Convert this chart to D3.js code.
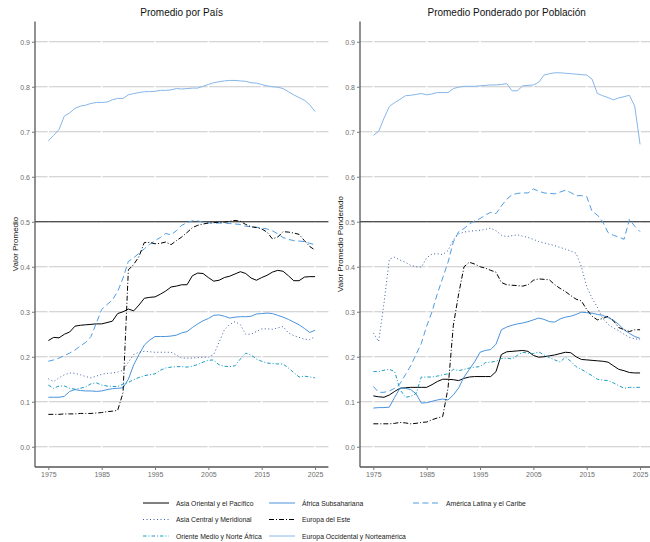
<!DOCTYPE html>
<html><head><meta charset="utf-8">
<script src="https://cdn.jsdelivr.net/npm/d3@7"></script>
<style>body{margin:0;background:#fff;} svg{display:block;font-family:"Liberation Sans",Arial,sans-serif;}</style>
</head><body><svg id="c" width="650" height="542"></svg>
<script>
const years = d3.range(1975, 2026);
const yTicks = [0, 0.1, 0.2, 0.3, 0.4, 0.5, 0.6, 0.7, 0.8, 0.9];
const xTicks = [1975, 1985, 1995, 2005, 2015, 2025];
const panelTitles = ["Promedio por País", "Promedio Ponderado por Población"];
const yTitles = ["Valor Promedio", "Valor Promedio Ponderado"];
const regions = ["Asia Oriental y el Pacífico","África Subsahariana","América Latina y el Caribe","Asia Central y Meridional","Europa del Este","Oriente Medio y Norte África","Europa Occidental y Norteamérica"];

// Promedio por País
const eastAsiaL = [.236,.243,.242,.25,.255,.268,.270,.271,.272,.273,.273,.276,.279,.296,.300,.306,.302,.315,.330,.332,.333,.339,.346,.355,.357,.360,.360,.380,.386,.385,.376,.368,.370,.376,.379,.384,.389,.385,.375,.370,.376,.381,.388,.392,.390,.380,.369,.369,.377,.378,.378];
const ssaL = [.11,.11,.11,.112,.123,.127,.125,.124,.124,.123,.124,.127,.129,.130,.131,.15,.182,.205,.226,.237,.245,.245,.245,.246,.248,.253,.256,.265,.273,.28,.285,.292,.293,.29,.286,.288,.289,.289,.29,.295,.296,.297,.296,.292,.288,.283,.277,.271,.263,.254,.259];
const latamL = [.19,.193,.197,.203,.208,.215,.224,.232,.245,.275,.305,.316,.326,.345,.375,.412,.42,.43,.44,.45,.458,.465,.474,.471,.48,.492,.498,.502,.502,.499,.498,.497,.497,.497,.496,.495,.494,.49,.489,.488,.486,.484,.48,.473,.465,.461,.458,.457,.456,.452,.449];
const centralAsiaL = [.151,.145,.153,.16,.164,.163,.16,.156,.153,.157,.161,.163,.164,.166,.17,.188,.205,.21,.212,.211,.21,.21,.21,.21,.204,.197,.197,.197,.198,.199,.199,.205,.232,.26,.272,.278,.271,.25,.25,.256,.262,.262,.261,.264,.267,.253,.247,.243,.239,.238,.245];
const eastEurL = [.072,.072,.072,.073,.073,.073,.074,.074,.074,.075,.076,.078,.079,.081,.12,.393,.405,.423,.454,.454,.451,.452,.455,.449,.458,.466,.476,.487,.492,.495,.497,.498,.499,.499,.501,.503,.501,.494,.489,.487,.484,.477,.462,.466,.478,.477,.475,.472,.458,.445,.437];
const menaL = [.137,.13,.135,.135,.13,.128,.13,.133,.14,.142,.137,.135,.134,.134,.139,.143,.149,.154,.158,.16,.162,.17,.175,.177,.178,.178,.177,.179,.183,.188,.192,.193,.182,.179,.178,.18,.195,.208,.204,.195,.19,.186,.185,.184,.184,.175,.165,.155,.157,.155,.153];
const westL = [.68,.692,.705,.735,.742,.752,.757,.759,.763,.765,.765,.766,.771,.774,.774,.782,.785,.787,.789,.789,.79,.792,.792,.793,.796,.795,.796,.797,.797,.801,.805,.809,.811,.813,.814,.814,.813,.812,.809,.808,.805,.802,.80,.799,.796,.789,.782,.776,.770,.76,.745];

// Promedio Ponderado por Población
const eastAsiaR = [.113,.111,.11,.115,.123,.13,.131,.132,.132,.132,.132,.138,.145,.15,.15,.149,.147,.152,.155,.156,.156,.156,.156,.167,.205,.211,.212,.213,.214,.212,.203,.199,.2,.202,.204,.207,.21,.209,.2,.194,.193,.192,.191,.19,.188,.18,.172,.169,.165,.164,.164];
const ssaR = [.086,.087,.087,.088,.11,.13,.13,.127,.118,.097,.098,.101,.104,.106,.104,.115,.131,.155,.172,.189,.21,.214,.216,.228,.26,.266,.27,.273,.275,.278,.282,.286,.283,.278,.277,.284,.288,.29,.294,.299,.298,.297,.294,.292,.287,.281,.272,.26,.252,.245,.241];
const latamR = [.134,.121,.121,.124,.13,.14,.16,.18,.205,.23,.268,.3,.34,.375,.41,.455,.478,.485,.495,.502,.507,.515,.521,.518,.535,.55,.56,.563,.564,.564,.573,.568,.564,.563,.562,.566,.57,.565,.558,.558,.556,.523,.515,.5,.476,.47,.466,.461,.505,.49,.478];
const centralAsiaR = [.253,.234,.319,.417,.421,.415,.41,.403,.4,.399,.42,.428,.429,.427,.436,.46,.473,.477,.479,.48,.481,.483,.486,.48,.47,.467,.469,.471,.468,.465,.461,.456,.453,.45,.447,.443,.439,.435,.43,.4,.356,.33,.31,.285,.272,.264,.258,.25,.243,.24,.238];
const eastEurR = [.051,.051,.051,.051,.052,.054,.053,.051,.052,.054,.055,.06,.064,.067,.13,.27,.34,.40,.41,.406,.4,.397,.392,.388,.365,.36,.359,.358,.357,.36,.37,.373,.372,.371,.36,.352,.345,.336,.328,.324,.305,.29,.282,.285,.29,.28,.265,.26,.256,.26,.26];
const menaR = [.167,.167,.17,.172,.167,.127,.11,.112,.118,.155,.155,.155,.157,.16,.162,.172,.169,.172,.175,.177,.178,.187,.188,.19,.196,.197,.195,.203,.21,.208,.207,.211,.204,.198,.193,.188,.199,.19,.178,.172,.165,.158,.15,.148,.147,.142,.136,.13,.132,.132,.132];
const westR = [.692,.701,.73,.756,.765,.772,.78,.781,.783,.785,.782,.784,.787,.787,.787,.796,.799,.801,.801,.801,.802,.803,.804,.804,.805,.807,.791,.791,.802,.803,.804,.81,.826,.829,.831,.831,.83,.829,.828,.827,.826,.817,.785,.78,.776,.771,.775,.778,.781,.757,.672];

const styles = [
  {color:"#000000", dash:null},
  {color:"#4a93dc", dash:null},
  {color:"#4e9de3", dash:"6,3.5"},
  {color:"#3d5fa8", dash:"1,2.5"},
  {color:"#000000", dash:"5,2,1,2"},
  {color:"#1a9cc4", dash:"3.5,2,1,2"},
  {color:"#86b6ea", dash:null}
];

const panels = [
  {series:[eastAsiaL, ssaL, latamL, centralAsiaL, eastEurL, menaL, westL], x0:35, x1:328.4},
  {series:[eastAsiaR, ssaR, latamR, centralAsiaR, eastEurR, menaR, westR], x0:360, x1:653.4}
];

const svg = d3.select("#c");
const y = d3.scaleLinear().domain([-0.045, 0.945]).range([467, 21.5]);

panels.forEach((p, pi) => {
  const x = d3.scaleLinear().domain([1972.5, 2027.5]).range([p.x0, p.x1]);
  const g = svg.append("g");
  // grid
  g.selectAll(".gy").data(yTicks).join("line")
    .attr("x1", p.x0).attr("x2", p.x1).attr("y1", d => y(d)).attr("y2", d => y(d))
    .attr("stroke", "#c9c9c9").attr("stroke-width", 1);
  g.selectAll(".gx").data(xTicks).join("line")
    .attr("x1", d => x(d)).attr("x2", d => x(d)).attr("y1", 21.5).attr("y2", 467)
    .attr("stroke", "#ffffff").attr("stroke-width", 1.5);
  // 0.5 reference
  g.append("line").attr("x1", p.x0).attr("x2", p.x1).attr("y1", y(0.5)).attr("y2", y(0.5))
    .attr("stroke", "#222").attr("stroke-width", 1.2);
  // series
  const line = d3.line().x((d, i) => x(years[i])).y(d => y(d));
  p.series.forEach((s, si) => {
    g.append("path").datum(s).attr("d", line).attr("fill", "none")
      .attr("stroke", styles[si].color).attr("stroke-width", 1)
      .attr("stroke-dasharray", styles[si].dash);
  });
  // axes
  const ya = d3.axisLeft(y).tickValues(yTicks).tickFormat(d3.format(".1f")).tickSize(3).tickPadding(2);
  const ga = g.append("g").attr("transform", `translate(${p.x0},0)`).call(ya);
  const xa = d3.axisBottom(x).tickValues(xTicks).tickFormat(d3.format("d")).tickSize(3).tickPadding(2);
  const gb = g.append("g").attr("transform", `translate(0,467)`).call(xa);
  [ga, gb].forEach(a => {
    a.select(".domain").attr("stroke", "#555").attr("stroke-width", 1.3);
    a.selectAll(".tick line").attr("stroke", "#777");
    a.selectAll(".tick text").attr("fill", "#6e6e6e").attr("font-size", 7).attr("font-family", "Liberation Sans, Arial, sans-serif");
  });
  ga.select(".domain").attr("d", `M0,21.5V467`);
  gb.select(".domain").attr("d", `M${p.x0},0H${p.x1}`);
  // titles
  svg.append("text").attr("x", (p.x0 + p.x1) / 2).attr("y", 16).attr("text-anchor", "middle")
    .attr("font-size", 10).attr("fill", "#111").text(panelTitles[pi]);
  svg.append("text").attr("transform", `translate(${p.x0 - 17},244) rotate(-90)`).attr("text-anchor", "middle")
    .attr("font-size", 8).attr("fill", "#111").text(yTitles[pi]);
});

// legend
const legendPos = [[143,503],[269,503],[413,503],[143,519.5],[269,519.5],[143,536],[269,536]];
regions.forEach((r, i) => {
  const [lx, ly] = legendPos[i];
  const lg = svg.append("g");
  lg.append("line").attr("x1", lx).attr("x2", lx + 26).attr("y1", ly).attr("y2", ly)
    .attr("stroke", styles[i].color).attr("stroke-width", 1).attr("stroke-dasharray", styles[i].dash);
  lg.append("text").attr("x", lx + 33).attr("y", ly + 2.5).attr("font-size", 6.8).attr("fill", "#222").text(r);
});
</script></body></html>
